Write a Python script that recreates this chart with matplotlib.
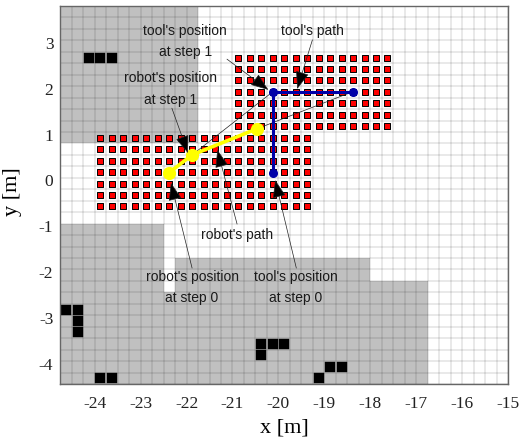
import matplotlib
matplotlib.use('Agg')
import matplotlib.pyplot as plt
from matplotlib.patches import Polygon
from matplotlib.transforms import ScaledTranslation

# occupied cells and area cells, centres in metres
red_x_low = [-23.875, -23.625, -23.375, -23.125, -22.875, -22.625, -22.375, -22.125, -21.875, -21.625,
             -21.375, -21.125, -20.875, -20.625, -20.375, -20.125, -19.875, -19.625, -19.375]
red_y_low = [0.875, 0.625, 0.375, 0.125, -0.125, -0.375, -0.625]
red_x_up = [-20.875, -20.625, -20.375, -20.125, -19.875, -19.625, -19.375, -19.125, -18.875, -18.625,
            -18.375, -18.125, -17.875, -17.625]
red_y_up = [2.625, 2.375, 2.125, 1.875, 1.625, 1.375, 1.125]

black_x = [-24.125, -23.875, -23.625, -24.625, -24.375, -24.375, -24.375, -23.875, -23.625,
           -20.375, -20.125, -19.875, -20.375, -18.875, -18.625, -19.125]
black_y = [2.625, 2.625, 2.625, -2.875, -2.875, -3.125, -3.375, -4.375, -4.375,
           -3.625, -3.625, -3.625, -3.875, -4.125, -4.125, -4.375]

grey_top = [(-24.75, 3.75), (-21.75, 3.75), (-21.75, 0.75), (-24.75, 0.75)]
grey_bottom = [(-24.75, -4.5), (-24.75, -1.0), (-22.5, -1.0), (-22.5, -2.5), (-22.25, -2.5), (-22.25, -1.75),
               (-18.0, -1.75), (-18.0, -2.25), (-16.75, -2.25), (-16.75, -4.5)]

robot_x = [-22.39, -21.88, -20.47]
robot_y = [0.105, 0.50, 1.07]
tool_x = [-20.12, -20.12, -18.38]
tool_y = [0.10, 1.88, 1.88]

xticks = [-24, -23, -22, -21, -20, -19, -18, -17, -16, -15]
yticks = [-4, -3, -2, -1, 0, 1, 2, 3]
grid_x = [-24.75 + 0.25*i for i in range(40)]
grid_y = [-4.5 + 0.25*i for i in range(34)]

fig = plt.figure(figsize=(5.24, 4.44), dpi=100)
ax = fig.add_axes([60.3/524, 1 - 384/444, (508 - 60.3)/524, 378/444])
ax.set_xlim(-24.75, -15)
ax.set_ylim(-4.5, 3.75)

ax.add_patch(Polygon(grey_top, fc='#c0c0c0', ec='none', zorder=1))
ax.add_patch(Polygon(grey_bottom, fc='#c0c0c0', ec='none', zorder=1))
for g in grid_x:
    ax.axvline(g, color='k', alpha=0.11, lw=1.1, zorder=2)
for g in grid_y:
    ax.axhline(g, color='k', alpha=0.11, lw=1.1, zorder=2)

for xs, ys in [(red_x_low, red_y_low), (red_x_up, red_y_up)]:
    px = [x for x in xs for y in ys]
    py = [y for x in xs for y in ys]
    ax.scatter(px, py, s=23, marker='s', c='#ff0000', edgecolors='k', linewidths=0.7, zorder=3)
ax.scatter(black_x, black_y, s=58, marker='s', c='k', edgecolors='k', linewidths=0.3, zorder=3)

# thin links robot -> tool
ax.plot([robot_x[1], tool_x[1]], [robot_y[1], tool_y[1]], color='#222222', lw=0.5, zorder=4)
ax.plot([robot_x[2], tool_x[2]], [robot_y[2], tool_y[2]], color='#222222', lw=0.5, zorder=4)

ax.plot(tool_x, tool_y, '-o', color='#0000a8', lw=2.2, ms=5.5, zorder=5)
ax.plot(robot_x, robot_y, '-o', color='#ffff00', lw=2.6, ms=8.5, zorder=6)

sans = 'Liberation Sans'
def note(txt, tx, ty, sx, sy, ex, ey):
    ax.text(tx, ty, txt, family=sans, fontsize=10, color='#1a1a1a', ha='center', va='center', linespacing=1.65, zorder=8)
    ax.annotate('', xy=(ex, ey), xytext=(sx, sy), zorder=7,
                arrowprops=dict(arrowstyle='-|>,head_length=0.8,head_width=0.3', mutation_scale=14,
                                fc='k', ec='#222222', lw=0.5, shrinkA=0, shrinkB=0))

note("tool's position\nat step 1", -22.03, 2.98, -21.12, 2.59, -20.22, 1.92)
note("robot's position\nat step 1", -22.34, 1.94, -22.32, 1.52, -21.97, 0.54)
note("tool's path", -19.26, 3.20, -19.26, 3.01, -19.59, 1.94)
note("robot's path", -20.90, -1.25, -20.90, -1.01, -21.33, 0.61)
note("robot's position\nat step 0", -21.88, -2.40, -21.88, -1.97, -22.34, -0.11)
note("tool's position\nat step 0", -19.62, -2.40, -19.61, -1.97, -20.07, -0.05)

serif = 'Liberation Serif'
ax.set_xticks(xticks)
ax.set_xticklabels([str(v) for v in xticks], family=serif, fontsize=12.5, color='#222222')
ax.set_yticks(yticks)
ax.set_yticklabels([str(v) for v in yticks], family=serif, fontsize=12.5, color='#222222')
ax.tick_params(axis='x', length=0, pad=8.5)
ax.tick_params(axis='y', length=0, pad=5)
# y labels sit slightly below their grid value in the reference
shift = ScaledTranslation(0, -2.5/72*0.72, fig.dpi_scale_trans)
for lab in ax.get_yticklabels():
    lab.set_transform(lab.get_transform() + shift)
for s in ax.spines.values():
    s.set_color('#666666')
    s.set_linewidth(1.0)
    s.set_zorder(9)
ax.set_xlabel('x [m]', family=serif, fontsize=16, labelpad=5)
ax.set_ylabel('y [m]', family=serif, fontsize=16)
ax.yaxis.set_label_coords(-0.086, 0.51)

fig.savefig('out.png', dpi=100)
